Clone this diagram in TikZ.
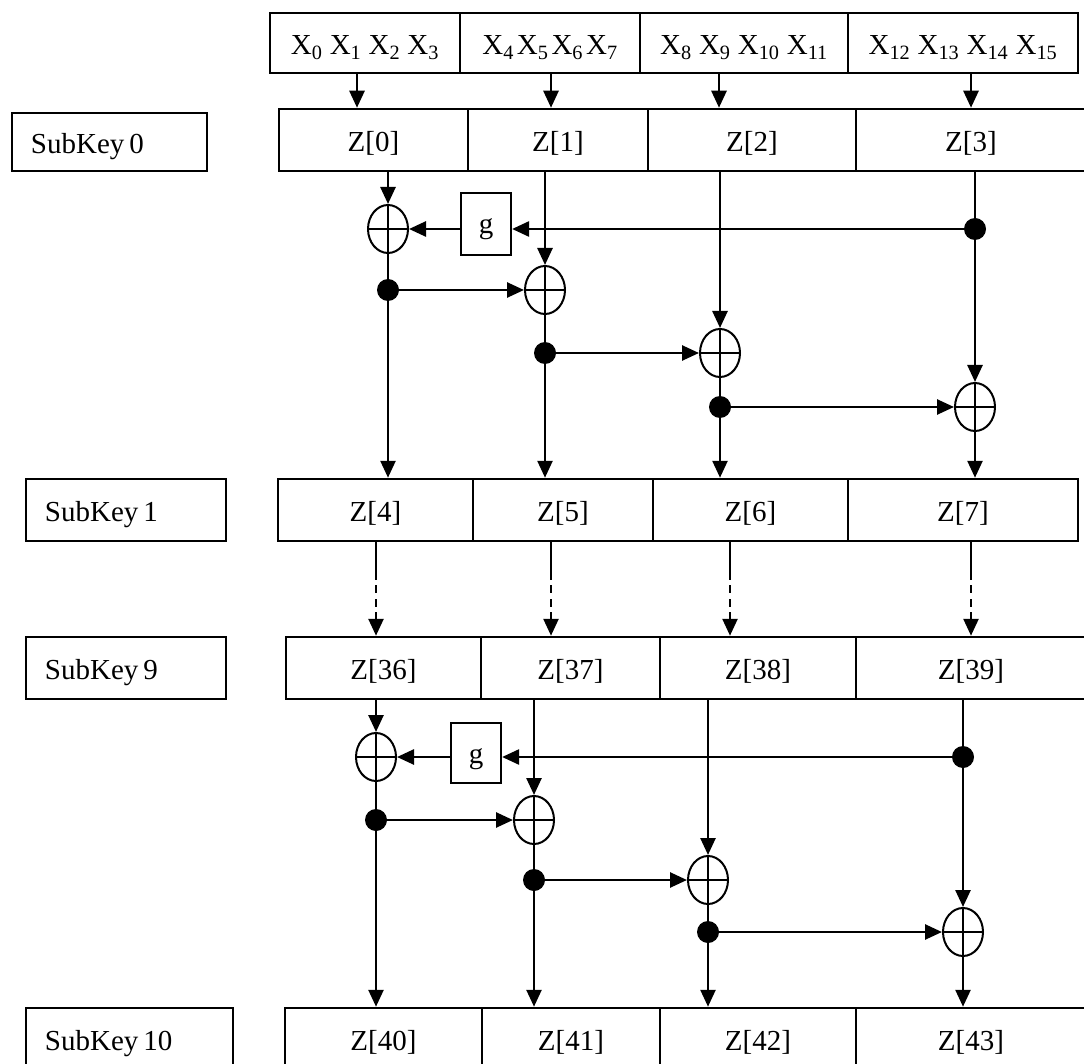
\documentclass[tikz,border=0pt]{standalone}
\usepackage{fontspec}
\setmainfont{Liberation Serif}
\usetikzlibrary{arrows.meta,shapes.geometric}
\begin{document}
\begin{tikzpicture}[x=1pt,y=-1pt,
  txt/.style={font=\fontsize{29}{34}\selectfont,text height=23pt,text depth=0pt},
  cell/.style={draw,line width=2.5pt,rectangle,inner sep=0pt,txt},
  keybox/.style={draw,line width=2.5pt,rectangle,inner sep=0pt,minimum width=#1pt},
  keytxt/.style={anchor=west,inner sep=0pt,txt},
  gbox/.style={draw,line width=2.2pt,rectangle,inner sep=0pt,font=\fontsize{29}{34}\selectfont,
     text height=20pt,text depth=0pt,minimum width=50pt},
  xorn/.style={draw,ellipse,line width=2pt,minimum width=40pt,minimum height=48pt,inner sep=0pt,
     path picture={\draw[line width=1.4pt] (path picture bounding box.north) -- (path picture bounding box.south)
       (path picture bounding box.west) -- (path picture bounding box.east);}},
  dotn/.style={circle,fill=black,inner sep=0pt,minimum size=22pt},
  conn/.style={line width=2.6pt},
  arr/.style={conn,-{Triangle[length=17pt,width=15pt]}},
  darr/.style={arr,dash pattern=on 38pt off 5pt on 8pt off 6pt on 8pt off 5pt on 80pt}
]
\useasboundingbox (0,0) rectangle (1084,1064);
\clip (0,0) rectangle (1084,1064);
\fill[white] (0,0) rectangle (1084,1064);

% ---- input row
\node[cell,minimum width=190pt,minimum height=60pt] (x0) at (365,43) {X\textsubscript{0} X\textsubscript{1} X\textsubscript{2} X\textsubscript{3}};
\node[cell,minimum width=180pt,minimum height=60pt] (x1) at (550,43) {X\textsubscript{4}\hspace{3pt}X\textsubscript{5}\hspace{3pt}X\textsubscript{6}\hspace{3pt}X\textsubscript{7}};
\node[cell,minimum width=208pt,minimum height=60pt] (x2) at (744,43) {X\textsubscript{8} X\textsubscript{9} X\textsubscript{10} X\textsubscript{11}};
\node[cell,minimum width=230pt,minimum height=60pt] (x3) at (963,43) {X\textsubscript{12} X\textsubscript{13} X\textsubscript{14} X\textsubscript{15}};

% ---- subkey labels
\node[keybox=195,minimum height=58pt] (k0) at (109.5,142) {};
\node[keytxt] (k0t) at ([xshift=20pt]k0.west) {SubKey\hspace{5pt}0};
\node[keybox=200,minimum height=62pt] (k1) at (126,510) {};
\node[keytxt] (k1t) at ([xshift=20pt]k1.west) {SubKey\hspace{5pt}1};
\node[keybox=200,minimum height=62pt] (k9) at (126,668) {};
\node[keytxt] (k9t) at ([xshift=20pt]k9.west) {SubKey\hspace{5pt}9};
\node[keybox=207,minimum height=62pt] (k10) at (129.5,1039) {};
\node[keytxt] (k10t) at ([xshift=20pt]k10.west) {SubKey\hspace{5pt}10};

% ---- Z rows
\node[cell,minimum width=189pt,minimum height=62pt] (z00) at (373.5,140) {Z[0]};
\node[cell,minimum width=180pt,minimum height=62pt] (z01) at (558,140) {Z[1]};
\node[cell,minimum width=208pt,minimum height=62pt] (z02) at (752,140) {Z[2]};
\node[cell,minimum width=230pt,minimum height=62pt] (z03) at (971,140) {Z[3]};

\node[cell,minimum width=195pt,minimum height=62pt] (z10) at (375.5,510) {Z[4]};
\node[cell,minimum width=180pt,minimum height=62pt] (z11) at (563,510) {Z[5]};
\node[cell,minimum width=195pt,minimum height=62pt] (z12) at (750.5,510) {Z[6]};
\node[cell,minimum width=230pt,minimum height=62pt] (z13) at (963,510) {Z[7]};

\node[cell,minimum width=195pt,minimum height=62pt] (z90) at (383.5,668) {Z[36]};
\node[cell,minimum width=179pt,minimum height=62pt] (z91) at (570.5,668) {Z[37]};
\node[cell,minimum width=196pt,minimum height=62pt] (z92) at (758,668) {Z[38]};
\node[cell,minimum width=230pt,minimum height=62pt] (z93) at (971,668) {Z[39]};

\node[cell,minimum width=197pt,minimum height=62pt] (zA0) at (383.5,1039) {Z[40]};
\node[cell,minimum width=178pt,minimum height=62pt] (zA1) at (571,1039) {Z[41]};
\node[cell,minimum width=196pt,minimum height=62pt] (zA2) at (758,1039) {Z[42]};
\node[cell,minimum width=230pt,minimum height=62pt] (zA3) at (971,1039) {Z[43]};

% ---- input arrows
\coordinate (p0) at (357,0);
\coordinate (p1) at (551,0);
\coordinate (p2) at (719,0);
\coordinate (p3) at (971,0);
\draw[arr] (x0.south -| p0) -- (z00.north -| p0);
\draw[arr] (x1.south -| p1) -- (z01.north -| p1);
\draw[arr] (x2.south -| p2) -- (z02.north -| p2);
\draw[arr] (x3.south -| p3) -- (z03.north -| p3);

% ---- round 1
\node[xorn] (xa1) at (388,229) {};
\node[gbox,minimum height=62pt] (g1) at (486,224) {g};
\node[xorn] (xb1) at (545,290) {};
\node[xorn] (xc1) at (720,353) {};
\node[xorn] (xd1) at (975,407) {};

\draw[arr] (xa1 |- z00.south) -- (xa1.north);
\draw[arr] (xb1 |- z01.south) -- (xb1.north);
\draw[arr] (xc1 |- z02.south) -- (xc1.north);
\draw[arr] (xd1 |- z03.south) -- (xd1.north);
\draw[arr] (xa1.south) -- (xa1 |- z10.north);
\draw[arr] (xb1.south) -- (xb1 |- z11.north);
\draw[arr] (xc1.south) -- (xc1 |- z12.north);
\draw[arr] (xd1.south) -- (xd1 |- z13.north);

\node[dotn] (dr1) at (975,229) {};
\node[dotn] (dA1) at (388,290) {};
\node[dotn] (dB1) at (545,353) {};
\node[dotn] (dC1) at (720,407) {};

\draw[arr] (dr1.center) -- (dr1 -| g1.east);
\draw[arr] (dr1 -| g1.west) -- (xa1.east);
\draw[arr] (dA1.center) -- (xb1.west);
\draw[arr] (dB1.center) -- (xc1.west);
\draw[arr] (dC1.center) -- (xd1.west);

% ---- dash-dot continuation
\coordinate (q0) at (376,0);
\coordinate (q1) at (551,0);
\coordinate (q2) at (730,0);
\coordinate (q3) at (971,0);
\draw[darr] (z10.south -| q0) -- (z90.north -| q0);
\draw[darr] (z11.south -| q1) -- (z91.north -| q1);
\draw[darr] (z12.south -| q2) -- (z92.north -| q2);
\draw[darr] (z13.south -| q3) -- (z93.north -| q3);

% ---- round 2
\node[xorn] (xa2) at (376,757) {};
\node[gbox,minimum height=60pt] (g2) at (476,753) {g};
\node[xorn] (xb2) at (534,820) {};
\node[xorn] (xc2) at (708,880) {};
\node[xorn] (xd2) at (963,932) {};

\draw[arr] (xa2 |- z90.south) -- (xa2.north);
\draw[arr] (xb2 |- z91.south) -- (xb2.north);
\draw[arr] (xc2 |- z92.south) -- (xc2.north);
\draw[arr] (xd2 |- z93.south) -- (xd2.north);
\draw[arr] (xa2.south) -- (xa2 |- zA0.north);
\draw[arr] (xb2.south) -- (xb2 |- zA1.north);
\draw[arr] (xc2.south) -- (xc2 |- zA2.north);
\draw[arr] (xd2.south) -- (xd2 |- zA3.north);

\node[dotn] (dr2) at (963,757) {};
\node[dotn] (dA2) at (376,820) {};
\node[dotn] (dB2) at (534,880) {};
\node[dotn] (dC2) at (708,932) {};

\draw[arr] (dr2.center) -- (dr2 -| g2.east);
\draw[arr] (dr2 -| g2.west) -- (xa2.east);
\draw[arr] (dA2.center) -- (xb2.west);
\draw[arr] (dB2.center) -- (xc2.west);
\draw[arr] (dC2.center) -- (xd2.west);
\end{tikzpicture}
\end{document}
